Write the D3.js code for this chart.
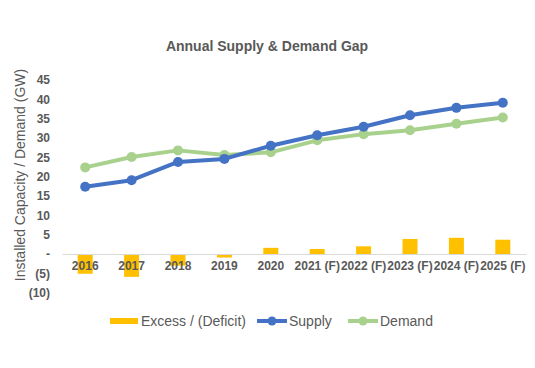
<!DOCTYPE html>
<html><head><meta charset="utf-8">
<script src="https://cdn.jsdelivr.net/npm/d3@7"></script>
<style>body{margin:0;background:#fff}svg{display:block;font-family:"Liberation Sans",Arial,sans-serif}</style>
</head><body><svg id="c" width="535" height="368"></svg>
<script>
const categories = ["2016","2017","2018","2019","2020","2021 (F)","2022 (F)","2023 (F)","2024 (F)","2025 (F)"];
const supply = [17.4, 19.1, 23.8, 24.6, 28.0, 30.7, 32.9, 35.9, 37.8, 39.1];
const demand = [22.4, 25.1, 26.8, 25.6, 26.3, 29.4, 31.0, 32.0, 33.7, 35.3];
const excess = [-5.1, -5.9, -3.0, -0.9, 1.6, 1.3, 2.0, 3.9, 4.2, 3.7];
const yTicks = [-10, -5, 0, 5, 10, 15, 20, 25, 30, 35, 40, 45];

const svg = d3.select("#c");
const x = d3.scaleBand().domain(categories).range([62, 526]).paddingInner(0).paddingOuter(0);
const y = d3.scaleLinear().domain([-10, 45]).range([292.7, 80]);
const fmt = v => v === 0 ? "-" : v < 0 ? "(" + (-v) + ")" : String(v);
const grey = "#595959";

svg.append("text").attr("x", 267).attr("y", 51).attr("text-anchor", "middle")
  .attr("font-size", 14).attr("font-weight", "bold").attr("fill", grey).text("Annual Supply & Demand Gap");

// y axis labels
const yAxis = d3.axisLeft(y).tickValues(yTicks).tickFormat(fmt).tickSize(0).tickPadding(0);
const ya = svg.append("g").attr("transform", "translate(50,0)").call(yAxis);
ya.select(".domain").remove();
ya.selectAll("text").attr("font-size", 12).attr("font-weight", "bold").attr("fill", grey)
  .attr("font-family", "'Liberation Sans',Arial,sans-serif");

svg.append("text").attr("transform", "translate(25,175) rotate(-90)").attr("text-anchor", "middle")
  .attr("font-size", 14).attr("fill", grey).text("Installed Capacity / Demand (GW)");

// bars
const bw = 15;
svg.append("g").selectAll("rect").data(excess).join("rect")
  .attr("x", (d, i) => x(categories[i]) + x.bandwidth() / 2 - bw / 2)
  .attr("width", bw)
  .attr("y", d => y(Math.max(0, d)))
  .attr("height", d => Math.abs(y(d) - y(0)))
  .attr("fill", "#FFC000");

// x axis
const xa = svg.append("g").attr("transform", `translate(0,${y(0)})`)
  .call(d3.axisBottom(x).tickSize(0).tickPadding(7));
xa.select(".domain").attr("stroke", "#d9d9d9").attr("stroke-width", 1);
xa.selectAll("text").attr("font-size", 12).attr("font-weight", "bold").attr("fill", grey)
  .attr("font-family", "'Liberation Sans',Arial,sans-serif");

const cx = (d, i) => x(categories[i]) + x.bandwidth() / 2;
function drawLine(vals, color) {
  const line = d3.line().x((d, i) => cx(d, i)).y(d => y(d));
  svg.append("path").datum(vals).attr("d", line).attr("fill", "none")
    .attr("stroke", color).attr("stroke-width", 4).attr("stroke-linejoin", "round");
  svg.append("g").selectAll("circle").data(vals).join("circle")
    .attr("cx", cx).attr("cy", d => y(d)).attr("r", 5).attr("fill", color);
}
drawLine(demand, "#A9D18E");
drawLine(supply, "#4472C4");

// legend
const lg = svg.append("g");
const ly = 321;
lg.append("rect").attr("x", 110).attr("y", ly - 3).attr("width", 28).attr("height", 6).attr("fill", "#FFC000");
lg.append("text").attr("x", 141).attr("y", ly + 5).attr("font-size", 14).attr("fill", grey).text("Excess / (Deficit)");
[[257, "#4472C4", "Supply"], [348, "#A9D18E", "Demand"]].forEach(([lx, c, t]) => {
  lg.append("line").attr("x1", lx).attr("x2", lx + 30).attr("y1", ly).attr("y2", ly).attr("stroke", c).attr("stroke-width", 4);
  lg.append("circle").attr("cx", lx + 15).attr("cy", ly).attr("r", 4.5).attr("fill", c);
  lg.append("text").attr("x", lx + 32).attr("y", ly + 5).attr("font-size", 14).attr("fill", grey).text(t);
});
</script></body></html>
